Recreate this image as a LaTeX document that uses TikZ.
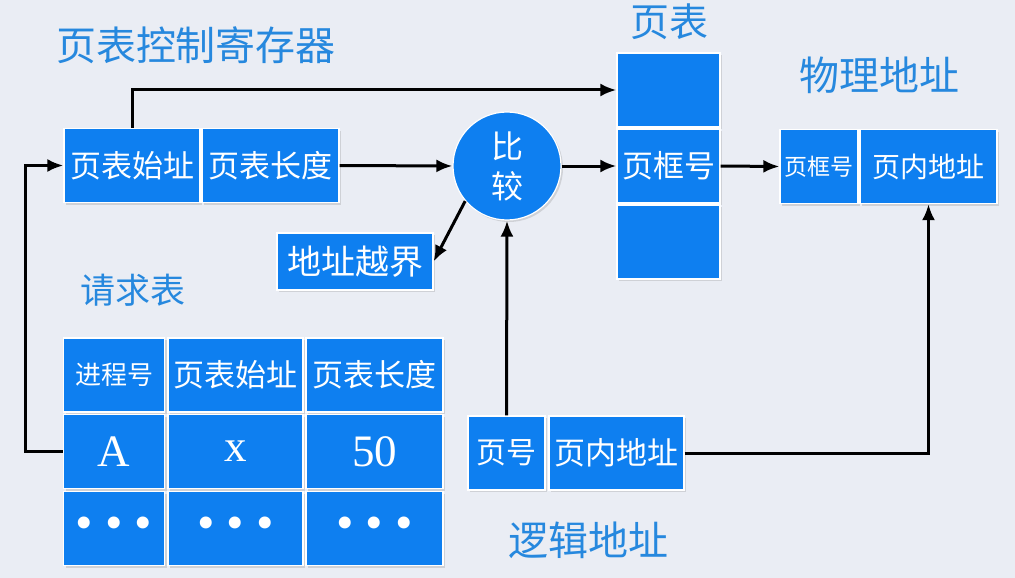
\documentclass[tikz,border=0pt]{standalone}
\usepackage{fontspec}
\setmainfont{Liberation Serif}
\newfontfamily\cjk{Noto Sans CJK SC}
\usepackage{tikz}
\usetikzlibrary{arrows.meta,shadows,positioning}
\definecolor{BoxBlue}{RGB}{14,127,240}
\definecolor{TitleBlue}{RGB}{38,136,222}
\definecolor{BgGray}{RGB}{234,237,244}
\newcommand\fsz[1]{\fontsize{#1}{#1}\selectfont}
\newcommand\threedots{\textbullet\hspace{12pt}\textbullet\hspace{12pt}\textbullet}

\begin{document}
\begin{tikzpicture}[x=1pt,y=-1pt,
  cell/.style={draw=white,line width=1.2pt,fill=BoxBlue,text=white,inner sep=0pt,
               minimum height=74pt,
               drop shadow={opacity=0.25,shadow xshift=2pt,shadow yshift=-2pt}},
  ttl/.style={text=TitleBlue,inner sep=0pt},
  arr/.style={-{Latex[length=16pt,width=13pt]},line width=3pt,black},
]
\fill[BgGray] (0,0) rectangle (1015,578);
\useasboundingbox (0,0) rectangle (1015,578);

% page table control register
\node[ttl,font=\cjk\fsz{40}] (ctltitle) at (196,45) {页表控制寄存器};
\node[cell,minimum width=136pt,font=\cjk\fsz{31}] (ptbase) at (132,165.5) {页表始址};
\node[cell,minimum width=137pt,font=\cjk\fsz{31}] (ptlen) at (270.5,165.5) {页表长度};

\node[cell,circle,minimum size=108pt,align=center,font=\cjk\fontsize{32}{40}\selectfont]
  (cmp) at (507,166) {比\\较};
\node[cell,minimum width=156pt,minimum height=57pt,font=\cjk\fsz{34}] (oob) at (355,261.5) {地址越界};

% page table
\node[ttl,font=\cjk\fsz{39}] (pttitle) at (669,22) {页表};
\node[cell,minimum width=103pt] (pt1) at (668.5,90) {};
\node[cell,minimum width=103pt,font=\cjk\fsz{31}] (pt2) at (668.5,166) {页框号};
\node[cell,minimum width=103pt] (pt3) at (668.5,242) {};

% physical address
\node[ttl,font=\cjk\fsz{40}] (phystitle) at (879,75) {物理地址};
\node[cell,minimum width=78pt,font=\cjk\fsz{23}] (physframe) at (819,166.5) {页框号};
\node[cell,minimum width=137pt,font=\cjk\fsz{28}] (physoff) at (928.5,166.5) {页内地址};

% request table
\node[ttl,font=\cjk\fsz{35}] (reqtitle) at (133,290) {请求表};
\node[cell,minimum width=101pt,font=\cjk\fsz{26}] (reqh1) at (114,375) {进程号};
\node[cell,minimum width=135pt,font=\cjk\fsz{31}] (reqh2) at (235.5,375) {页表始址};
\node[cell,minimum width=137pt,font=\cjk\fsz{31}] (reqh3) at (374.5,375) {页表长度};
\node[cell,minimum width=101pt,font=\fsz{45}] (reqA) at (114,451.5) {A};
\node[cell,minimum width=135pt,font=\fsz{45}] (reqx) at (235.5,451.5) {x};
\node[cell,minimum width=137pt,font=\fsz{45}] (req50) at (374.5,451.5) {50};
\node[cell,minimum width=101pt,font=\fsz{50}] (reqd1) at (114,528.5) {\threedots};
\node[cell,minimum width=135pt,font=\fsz{50}] (reqd2) at (235.5,528.5) {\threedots};
\node[cell,minimum width=137pt,font=\fsz{50}] (reqd3) at (374.5,528.5) {\threedots};

% logical address
\node[cell,minimum width=77pt,font=\cjk\fsz{30}] (lpage) at (506.5,453) {页号};
\node[cell,minimum width=135pt,font=\cjk\fsz{31}] (loff) at (616.5,453) {页内地址};
\node[ttl,font=\cjk\fsz{40}] (logtitle) at (588,540) {逻辑地址};

% connectors
\draw[arr] (ptbase.north) |- (pt1.west);
\draw[arr] (ptlen.east) -- (cmp.west);
\draw[arr] (cmp.east) -- (pt2.west);
\draw[arr] (pt2.east) -- (physframe.west);
\draw[arr] (cmp.220) -- (oob.east);
\draw[arr] (lpage.north) -- (cmp.south);
\draw[arr] (loff.east) -| (physoff.south);
\draw[arr] (reqA.west) -- ++(-37,0) |- (ptbase.west);
\end{tikzpicture}
\end{document}
